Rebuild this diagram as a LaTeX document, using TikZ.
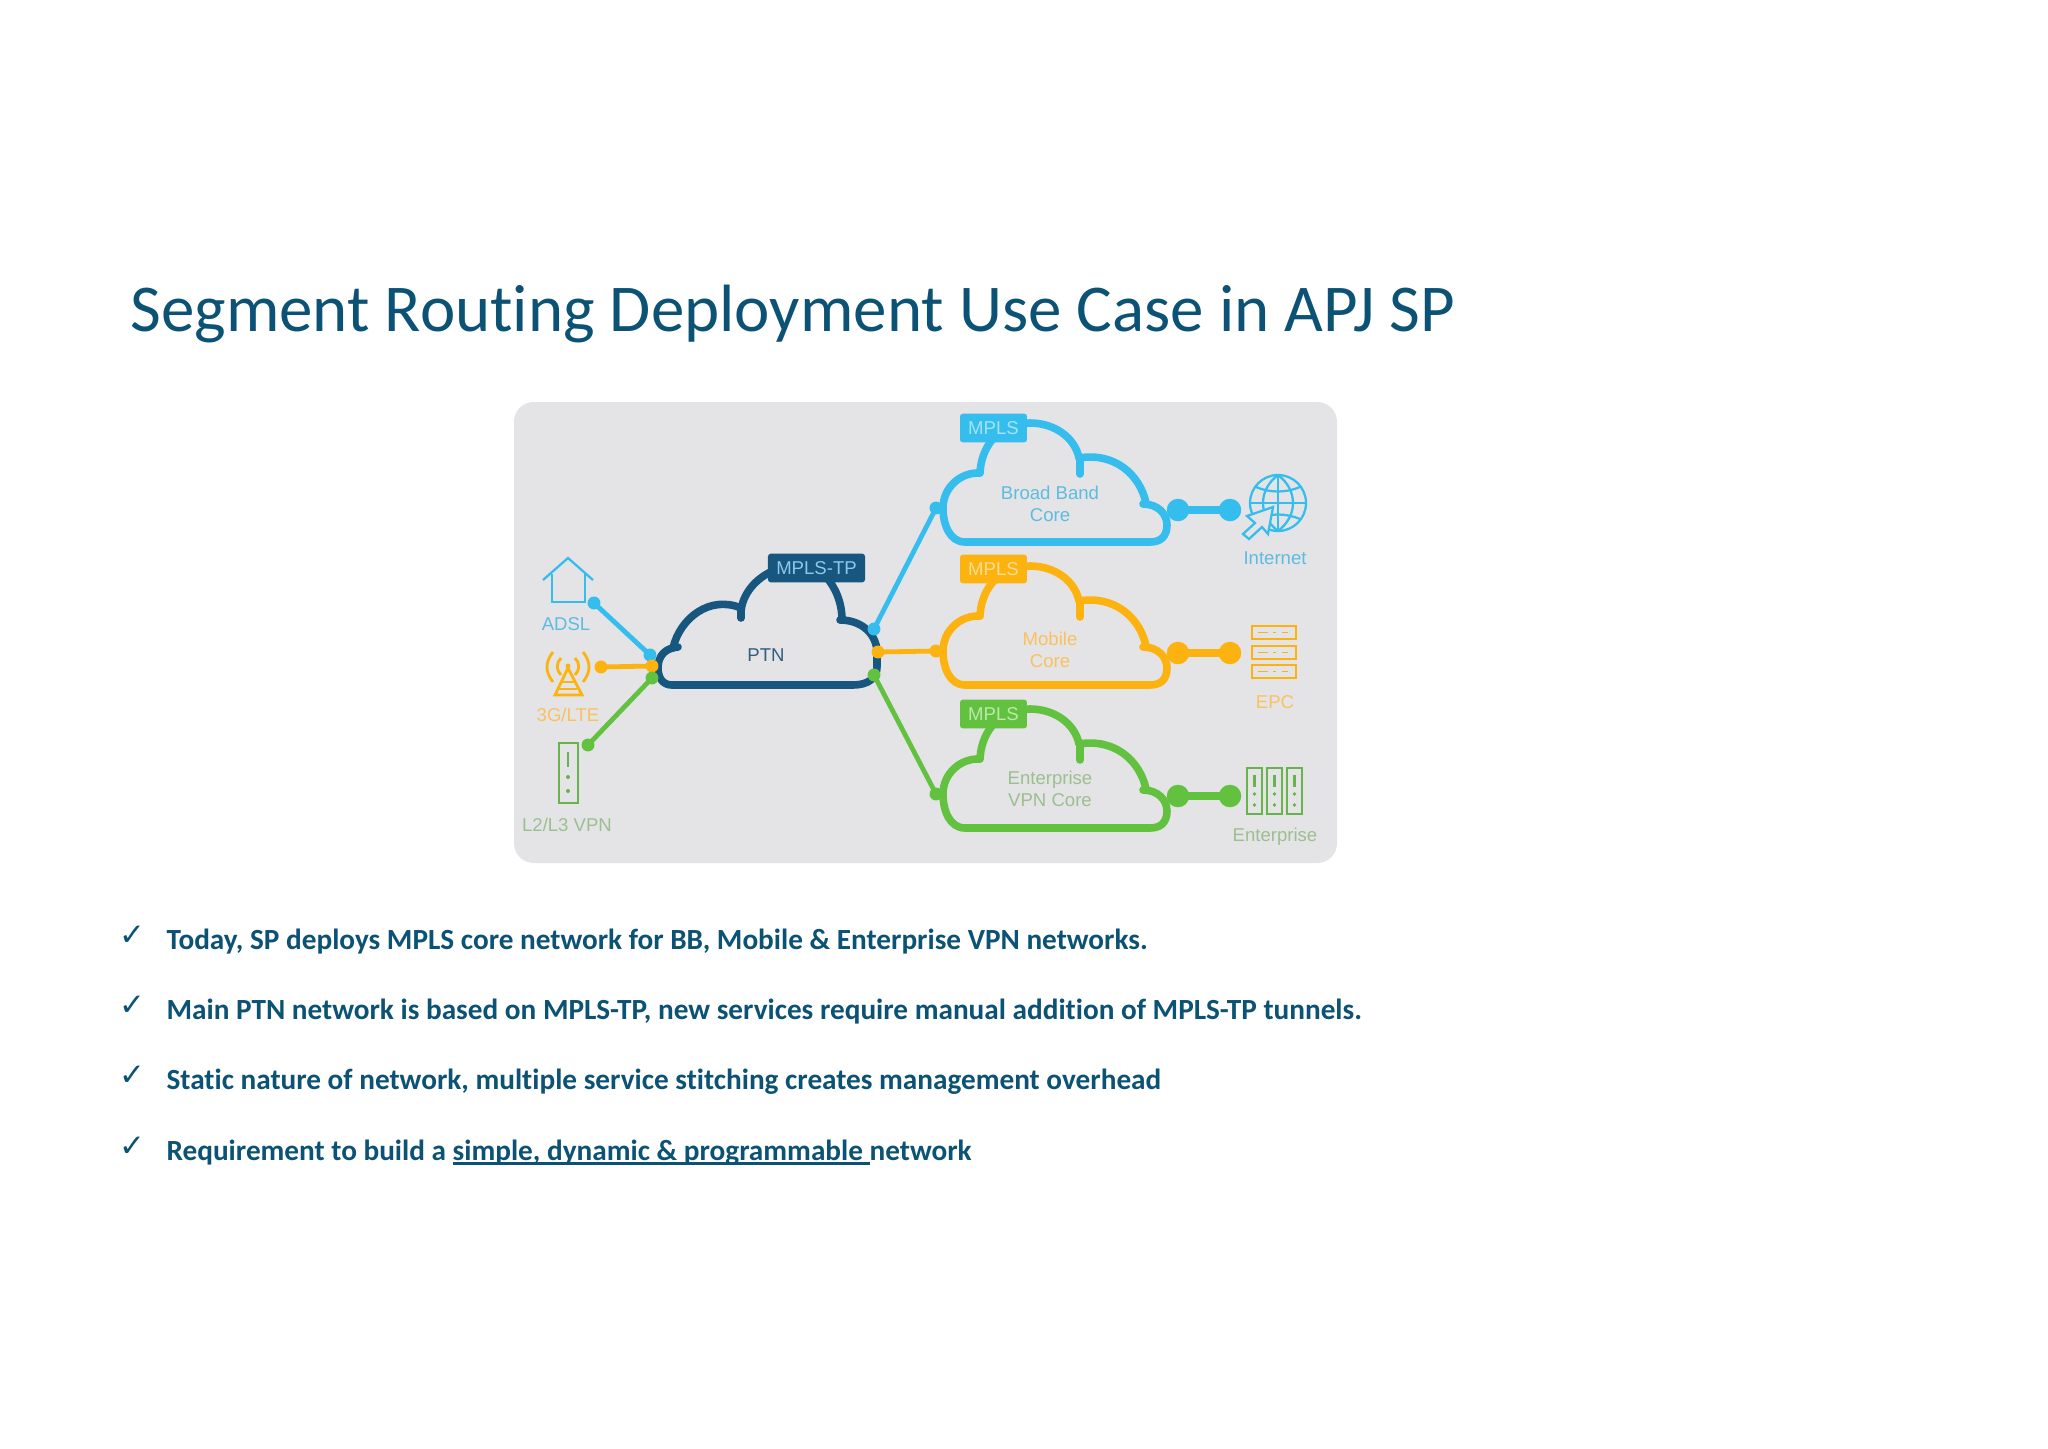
\documentclass[tikz,border=0pt]{standalone}
\usepackage{fontspec}
\setmainfont[Ligatures=NoCommon]{Carlito}
\newfontfamily\labelfont{Liberation Sans}
\newfontfamily\tickfont{DejaVu Sans}
\usetikzlibrary{positioning}

\definecolor{titleblue}{HTML}{0B5275}
\definecolor{panelgrey}{HTML}{E4E3E6}
\definecolor{coreblue}{HTML}{35BDEE}
\definecolor{coreorange}{HTML}{FDB30F}
\definecolor{coregreen}{HTML}{62C13F}
\definecolor{ptnblue}{HTML}{17567F}
\definecolor{softblue}{HTML}{5DBCDF}
\definecolor{softorange}{HTML}{F9C25F}
\definecolor{softgreen}{HTML}{9CBF90}
\definecolor{tagblue}{HTML}{A5E3F7}
\definecolor{tagorange}{HTML}{FEDD92}
\definecolor{taggreen}{HTML}{BDE8AC}
\definecolor{tagdark}{HTML}{8FC8EA}

\newsavebox{\ulinebox}
\newcommand{\ulinetext}[1]{\sbox{\ulinebox}{#1}\rlap{\rule[-1.6pt]{\wd\ulinebox}{0.8pt}}\usebox{\ulinebox}}

\tikzset{
  cloud line/.style={line width=2.7pt, line cap=round, line join=round},
  link/.style={line width=1.7pt, shorten >=-1pt, shorten <=-1pt},
  thick link/.style={line width=2.6pt, shorten >=-1pt, shorten <=-1pt},
  dot/.style={circle, fill, inner sep=0pt, outer sep=0pt, minimum size=4.6pt},
  big dot/.style={circle, fill, inner sep=0pt, outer sep=0pt, minimum size=8pt},
  tag/.style={rounded corners=1pt, inner sep=0pt, minimum width=23.8pt, minimum height=10.2pt, font=\labelfont\fontsize{6.6}{7}\selectfont},
  caption/.style={font=\labelfont\fontsize{6.6}{7.9}\selectfont, align=center, inner sep=0pt},
  icon/.style={line width=0.8pt},
  bullet/.style={anchor=base west, inner sep=0pt, text=titleblue, font=\bfseries\fontsize{10.4}{13}\selectfont},
  tick/.style={anchor=base west, inner sep=0pt, text=titleblue, font=\tickfont\fontsize{11}{13}\selectfont}
}

\begin{document}
\begin{tikzpicture}[x=0.0125cm, y=-0.0125cm]
\useasboundingbox (0,0) rectangle (2048,1448);

\node [anchor=base west, inner sep=0pt, text=titleblue, font=\fontsize{23.8}{29}\selectfont] (title) at (130,331) {Segment Routing Deployment Use Case in APJ SP};

\fill [panelgrey, rounded corners=7pt] (514,402) rectangle (1337,863);

% three core clouds
\foreach \n/\c/\tc/\lc/\dy/\gy/\ty/\t in {
    broad/coreblue/softblue/tagblue/0/428/504/{Broad Band\\Core},
    mobile/coreorange/softorange/tagorange/143/426/507/{Mobile\\Core},
    vpn/coregreen/softgreen/taggreen/286/428/503/{Enterprise\\VPN Core}} {
  \begin{scope}[shift={(0,\dy)}]
    \draw [cloud line, \c] (980,473) .. controls (981,450) and (995,424) .. (1030,423)
        .. controls (1055,423) and (1075,438) .. (1079,458)
        .. controls (1115,452) and (1140,475) .. (1146,503);
    \draw [cloud line, \c] (1080,459) -- (1080,474);
    \draw [cloud line, \c] (1143,504) .. controls (1158,504) and (1167,514) .. (1167,525)
        .. controls (1167,537) and (1160,542) .. (1150,542) -- (965,542)
        .. controls (950,542) and (943,525) .. (943,508)
        .. controls (943,488) and (960,472) .. (980,473);
    \node [tag, fill=\c, text=\lc] (\n-tag) at (993.5,\gy) {MPLS};
    \node [caption, text=\tc] (\n-text) at (1050,\ty) {\t};
    \node [dot, \c] (\n-in) at (936,508) {};
    \node [big dot, \c] (\n-out) at (1178,510) {};
    \node [big dot, \c] (\n-end) at (1230,510) {};
    \draw [thick link, \c] (\n-out) -- (\n-end);
  \end{scope}
}

% PTN cloud
\draw [cloud line, ptnblue] (673,648) .. controls (680,618) and (710,595) .. (741,608);
\draw [cloud line, ptnblue] (741,608) -- (741,618);
\draw [cloud line, ptnblue] (741,612) .. controls (742,595) and (755,578) .. (775,570)
    -- (820,570) .. controls (835,585) and (841,600) .. (842,617);
\draw [cloud line, ptnblue] (840,620) .. controls (860,620) and (875,632) .. (877,650)
    -- (877,667) .. controls (877,678) and (868,685) .. (853,685) -- (672,685)
    .. controls (663,685) and (658,678) .. (658,668)
    .. controls (658,655) and (666,648) .. (678,647);
\node [tag, fill=ptnblue, text=tagdark, minimum width=34.5pt] (ptn-tag) at (816.5,568) {MPLS-TP};
\node [caption, text=ptnblue!75!gray] (ptn-text) at (766,655) {PTN};

% dots on the PTN cloud
\node [dot, coreblue] (ptn-l1) at (650,655) {};
\node [dot, coreorange] (ptn-l2) at (652,666) {};
\node [dot, coregreen] (ptn-l3) at (652,678) {};
\node [dot, coreblue] (ptn-r1) at (874,629) {};
\node [dot, coreorange] (ptn-r2) at (878,652) {};
\node [dot, coregreen] (ptn-r3) at (874,675) {};

% access side
\node [dot, coreblue] (adsl-dot) at (594,603) {};
\node [dot, coreorange] (lte-dot) at (601,667) {};
\node [dot, coregreen] (vpn-dot) at (588,745) {};

\draw [link, coreblue] (adsl-dot) -- (ptn-l1);
\draw [link, coreorange] (lte-dot) -- (ptn-l2);
\draw [link, coregreen] (vpn-dot) -- (ptn-l3);
\draw [link, coreblue] (ptn-r1) -- (broad-in);
\draw [link, coreorange] (ptn-r2) -- (mobile-in);
\draw [link, coregreen] (ptn-r3) -- (vpn-in);

\node [caption, text=softblue] (adsl-text) at (566,624) {ADSL};
\node [caption, text=softorange] (lte-text) at (568,715) {3G/LTE};
\node [caption, text=softgreen] (l2l3-text) at (567,825) {L2/L3 VPN};
\node [caption, text=softblue] (internet-text) at (1275,558) {Internet};
\node [caption, text=softorange] (epc-text) at (1275,702) {EPC};
\node [caption, text=softgreen] (ent-text) at (1275,837) {Enterprise};

% house
\draw [icon, coreblue] (543,580) -- (568,558) -- (593,580);
\draw [icon, coreblue] (552,574) -- (552,602) -- (585,602) -- (585,574);

% tower
\draw [icon, coreorange, line width=1pt] (553,652) .. controls (545,662) and (545,672) .. (553,682);
\draw [icon, coreorange, line width=1pt] (583,652) .. controls (591,662) and (591,672) .. (583,682);
\draw [icon, coreorange, line width=1pt] (561,658) .. controls (556,663) and (556,670) .. (561,675);
\draw [icon, coreorange, line width=1pt] (575,658) .. controls (580,663) and (580,670) .. (575,675);
\fill [coreorange] (568,666) circle (2.5);
\draw [icon, coreorange, line width=1pt] (568,668) -- (555,695) -- (582,695) -- cycle;
\draw [icon, coreorange] (562,682) -- (574,682) (559,689) -- (577,689);

% box
\draw [icon, coregreen!80!gray] (559,743) rectangle (578,803);
\draw [icon, coregreen!80!gray] (568,752) -- (568,767);
\fill [coregreen!80!gray] (568,777) circle (2) (568,791) circle (2);

% globe with cursor
\draw [icon, coreblue] (1278,503) circle (28);
\draw [icon, coreblue] (1278,475) .. controls (1258,490) and (1258,516) .. (1278,531);
\draw [icon, coreblue] (1278,475) .. controls (1298,490) and (1298,516) .. (1278,531);
\draw [icon, coreblue] (1278,475) -- (1278,531) (1250,503) -- (1306,503);
\draw [icon, coreblue] (1256,487) .. controls (1270,493) and (1286,493) .. (1300,487);
\draw [icon, coreblue] (1256,519) .. controls (1270,513) and (1286,513) .. (1300,519);
\draw [icon, coreblue, fill=panelgrey] (1273,507) -- (1247,516) -- (1255,523) -- (1243,534) -- (1249,539) -- (1262,527) -- (1268,534) -- cycle;

% servers
\foreach \y in {626,646,665} {
  \draw [icon, coreorange] (1252,\y) rectangle (1296,\y+13);
  \draw [coreorange, line width=0.5pt] (1258,\y+6.5) -- (1268,\y+6.5) (1273,\y+6.5) -- (1276,\y+6.5) (1282,\y+6.5) -- (1288,\y+6.5);
}

% racks
\foreach \x in {1247,1267,1287} {
  \draw [icon, coregreen!80!gray] (\x,768) rectangle (\x+15,814);
  \draw [coregreen!80!gray, line width=0.8pt] (\x+7.5,775) -- (\x+7.5,787);
  \fill [coregreen!80!gray] (\x+7.5,794) circle (1.8) (\x+7.5,805) circle (1.8);
}

% text below the panel
\foreach \t [count=\i from 0] in {
    {Today, SP deploys MPLS core network for BB, Mobile \& Enterprise VPN networks.},
    {Main PTN network is based on MPLS-TP, new services require manual addition of MPLS-TP tunnels.},
    {Static nature of network, multiple service stitching creates management overhead},
    {Requirement to build a \ulinetext{simple, dynamic \& programmable\ }network}} {
  \node [tick] (tick-\i) at (119,{945+70.4*\i}) {✓};
  \node [bullet] (line-\i) at (166,{949+70.4*\i}) {\t};
}
\end{tikzpicture}
\end{document}
